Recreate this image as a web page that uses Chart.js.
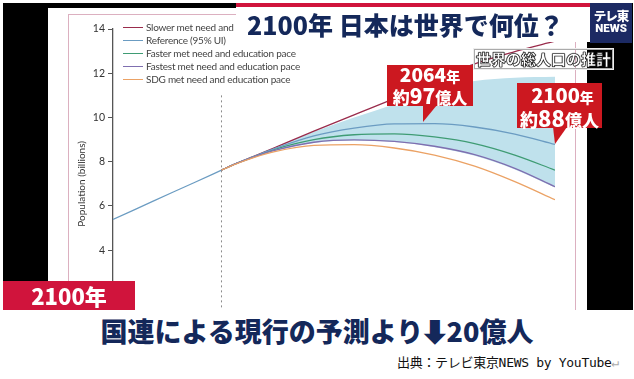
<!DOCTYPE html>
<html><head><meta charset="utf-8">
<script src="https://cdn.jsdelivr.net/npm/chart.js@4/dist/chart.umd.min.js"></script>
<style>
html,body{margin:0;padding:0;background:#fff;}
body{width:634px;height:379px;position:relative;overflow:hidden;font-family:"Noto Sans CJK JP",sans-serif;}
.abs{position:absolute;}
#clip{position:absolute;left:0;top:0;width:634px;height:310px;overflow:hidden;}
#legend{position:absolute;left:123px;top:21px;font-family:Lato,"Liberation Sans",sans-serif;font-size:10px;letter-spacing:-0.25px;color:#444;line-height:13px;}
#legend div{position:relative;height:13px;white-space:nowrap;}
#legend span.sw{display:inline-block;width:20px;height:1.4px;vertical-align:middle;margin-right:3px;position:relative;top:-1px;}
.cj{font-family:"Noto Sans CJK JP",sans-serif;font-weight:900;}
</style></head>
<body>
<div id="clip">
  <div class="abs" style="left:3px;top:3px;width:630px;height:307px;background:#000;"></div>
  <div class="abs" style="left:48px;top:8px;width:539px;height:302px;background:#fff;"></div>
  <div class="abs" style="left:68px;top:14px;width:506px;height:400px;border:1px solid #dcb0c0;"></div>
  <div class="abs" style="left:48px;top:8px;width:539px;height:340px;"><canvas id="c" width="539" height="340"></canvas></div>
  <div id="legend"></div>
  <!-- title -->
  <div class="abs" style="left:236px;top:3px;width:354px;height:4px;background:#d0143c;"></div>
  <div class="abs" style="left:236px;top:7px;width:354px;height:35px;background:#fff;"></div>
  <div class="abs cj" style="left:247px;top:7px;height:35px;line-height:35px;font-size:25px;color:#14285a;white-space:nowrap;">2100年 日本は世界で何位？</div>
  <div class="abs cj" style="left:590px;top:3px;width:42px;height:40px;background:#1c2a63;color:#fff;text-align:center;font-size:12.5px;line-height:13px;">
    <div style="padding-top:6px;letter-spacing:-1px;">テレ東</div><div style="font-family:Roboto,sans-serif;font-weight:900;font-size:11.5px;">NEWS</div>
  </div>
  <div class="abs cj" style="left:474px;top:49px;width:137px;height:18px;border:1px solid #aaa;box-shadow:0 0 0 1px #eee;line-height:18px;font-size:15px;color:#fff;text-align:center;-webkit-text-stroke:0.6px #222;text-shadow:0 0 1px #000,0 0 1px #000;white-space:nowrap;">世界の総人口の推計</div>
  <!-- callout 1 -->
  <div class="abs" style="left:387px;top:65px;width:86px;height:41px;background:#cc1820;"></div>
  <div class="abs" style="left:420px;top:105px;width:18px;height:18px;background:#cc1820;clip-path:polygon(3px 0,17px 0,3px 17px);"></div>
  <div class="abs cj" style="left:387px;top:64px;width:86px;text-align:center;color:#fff;line-height:19px;white-space:nowrap;">
    <div style="font-size:19px;">2064<span style="font-size:14px;">年</span></div>
    <div style="font-size:21px;"><span style="font-size:17px;">約</span>97<span style="font-size:16px;">億人</span></div>
  </div>
  <!-- callout 2 -->
  <div class="abs" style="left:517px;top:83px;width:85px;height:45px;background:#cc1820;"></div>
  <div class="abs" style="left:553px;top:127px;width:16px;height:18px;background:#cc1820;clip-path:polygon(0 0,14px 0,2px 17px);"></div>
  <div class="abs cj" style="left:517px;top:85px;width:85px;text-align:center;color:#fff;line-height:20px;white-space:nowrap;">
    <div style="font-size:20px;padding-left:6px;">2100<span style="font-size:14px;">年</span></div>
    <div style="font-size:22px;"><span style="font-size:18px;">約</span>88<span style="font-size:17px;">億人</span></div>
  </div>
  <!-- bottom-left banner -->
  <div class="abs cj" style="left:3px;top:281px;width:132px;height:29px;background:#d0143c;color:#fff;font-size:22px;line-height:29px;text-align:center;">2100年</div>
</div>
<div class="abs cj" style="left:0;top:316px;width:634px;text-align:center;font-size:27px;line-height:30px;color:#14285a;white-space:nowrap;">国連による現行の予測より<span style="font-family:'DejaVu Sans';font-weight:bold;font-size:28px;-webkit-text-stroke:3px #14285a;">⬇</span>20億人</div>
<div class="abs" style="left:397px;top:355px;font-family:'DejaVu Sans Mono','Noto Sans CJK JP',monospace;font-size:13px;line-height:16px;color:#111;white-space:nowrap;letter-spacing:-0.3px;">出典：テレビ東京NEWS by YouTube<span style="color:#aaa;">↵</span></div>

<script>
// ---- data (billions) ----
const histYears = [1990, 1995, 2000, 2005, 2010, 2015, 2017];
const histPop   = [5.39, 5.80, 6.22, 6.63, 7.04, 7.45, 7.62];
const fcYears   = [2017, 2020, 2025, 2030, 2040, 2050, 2060, 2070, 2080, 2090, 2100];
const slower    = [7.62, 7.87, 8.24, 8.62, 9.38, 10.12, 10.85, 11.62, 12.42, 12.98, 13.45];
const reference = [7.62, 7.87, 8.23, 8.58, 9.17, 9.52, 9.71, 9.72, 9.57, 9.25, 8.78];
const faster    = [7.62, 7.87, 8.22, 8.55, 9.00, 9.22, 9.26, 9.12, 8.82, 8.30, 7.62];
const fastest   = [7.62, 7.87, 8.21, 8.50, 8.88, 8.99, 8.92, 8.70, 8.32, 7.70, 6.87];
const sdg       = [7.62, 7.86, 8.19, 8.45, 8.74, 8.77, 8.62, 8.30, 7.80, 7.10, 6.28];
const uiUpper   = [7.62, 7.87, 8.25, 8.63, 9.35, 10.00, 10.60, 11.25, 11.65, 11.80, 11.84];
const uiLower   = [7.62, 7.86, 8.20, 8.48, 8.85, 8.96, 8.89, 8.66, 8.27, 7.65, 6.83];
const forecastStart = 2017;
const yTicks = [0, 2, 4, 6, 8, 10, 12, 14];
const seriesNames = ["Slower met need and education pace", "Reference (95% UI)", "Faster met need and education pace", "Fastest met need and education pace", "SDG met need and education pace"];
const seriesColors = ["#9a2c4c", "#6b9cc2", "#3f9c74", "#7f6fb0", "#eba265"];
const seriesData = [slower, reference, faster, fastest, sdg];

const pts = (xs, ys) => xs.map((x, i) => ({x: x, y: ys[i]}));

// legend (HTML text)
const lg = document.getElementById('legend');
seriesNames.forEach((n, i) => {
  const d = document.createElement('div');
  d.innerHTML = '<span class="sw" style="background:' + seriesColors[i] + '"></span>' + n;
  lg.appendChild(d);
});

const datasets = [];
datasets.push({data: pts(fcYears, uiUpper), borderWidth: 0, pointRadius: 0, fill: '+1', backgroundColor: '#bfe1ec', cubicInterpolationMode: 'monotone', order: 20});
datasets.push({data: pts(fcYears, uiLower), borderWidth: 0, pointRadius: 0, fill: false, cubicInterpolationMode: 'monotone', order: 19});
datasets.push({data: [{x: forecastStart, y: 11}, {x: forecastStart, y: 0}], borderColor: '#8a8a8a', borderWidth: 1, borderDash: [2, 3], pointRadius: 0, fill: false, order: 18});
datasets.push({data: pts(histYears, histPop), borderColor: seriesColors[1], borderWidth: 1.2, pointRadius: 0, fill: false, order: 10});
const ord = [5, 3, 4, 2, 1];
seriesData.forEach((s, i) => {
  datasets.push({label: seriesNames[i], data: pts(fcYears, s), borderColor: seriesColors[i], borderWidth: 1.3, pointRadius: 0, fill: false, cubicInterpolationMode: 'monotone', order: ord[i]});
});

new Chart(document.getElementById('c'), {
  type: 'line',
  data: {datasets: datasets},
  options: {
    responsive: false, animation: false,
    layout: {padding: {top: 21, bottom: 9, left: 0, right: 32}},
    plugins: {legend: {display: false}, tooltip: {enabled: false}},
    scales: {
      x: {type: 'linear', min: 1990, max: 2100, display: false},
      y: {
        min: 0, max: 14,
        afterFit: s => { s.width = 65; },
        afterBuildTicks: s => { s.ticks = yTicks.map(v => ({value: v})); },
        grid: {display: true, drawOnChartArea: false, drawTicks: true, tickLength: 5, color: '#555', lineWidth: 1},
        border: {display: true, color: '#555', width: 1.3},
        ticks: {color: '#333', font: {family: 'Lato, "Liberation Sans", sans-serif', size: 10.5}, padding: 3},
        title: {display: true, text: 'Population (billions)', color: '#333', font: {family: 'Lato, "Liberation Sans", sans-serif', size: 10}, padding: {top: 28, bottom: 0}}
      }
    }
  }
});
</script>
</body></html>
